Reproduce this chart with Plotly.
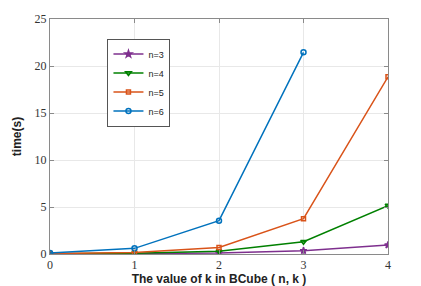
import plotly.graph_objects as go

k_values = [0, 1, 2, 3, 4]
n3 = [0.01, 0.03, 0.1, 0.35, 0.95]
n4 = [0.02, 0.08, 0.3, 1.3, 5.15]
n5 = [0.05, 0.15, 0.7, 3.75, 18.85]
n6 = [0.1, 0.6, 3.55, 21.45]
series = [
    ("n=3", k_values, n3, "#7E2F8E", "star", 5),
    ("n=4", k_values, n4, "#008000", "triangle-down-open", 5),
    ("n=5", k_values, n5, "#D95319", "square-open", 4),
    ("n=6", k_values[:4], n6, "#0072BD", "circle-open", 5),
]

fig = go.Figure()
for name, xs, ys, c, sym, sz in series:
    fig.add_trace(go.Scatter(
        x=xs, y=ys, name=name, mode="lines+markers",
        line=dict(color=c, width=1.5),
        marker=dict(symbol=sym, size=sz, color=c, line=dict(color=c, width=1.5)),
    ))

axis_common = dict(
    showline=True, linecolor="#8a8a8a", linewidth=1, mirror="ticks",
    ticks="inside", ticklen=4, tickcolor="#8a8a8a",
    showgrid=True, gridcolor="#e8e8e8", zeroline=False, automargin=False,
    tickfont=dict(family="Liberation Serif", size=12, color="#333333"),
)
fig.update_xaxes(range=[0, 4], dtick=1, **axis_common,
                 title=dict(text="<b>The value of k in BCube ( n, k )</b>",
                            font=dict(family="Liberation Sans", size=12, color="#222222"),
                            standoff=0))
fig.update_yaxes(range=[0, 25], dtick=5, **axis_common,
                 title=dict(text="<b>time(s)</b>",
                            font=dict(family="Liberation Sans", size=12, color="#222222"),
                            standoff=10))
fig.update_layout(
    width=421, height=286,
    margin=dict(l=50, r=33, t=19, b=32),
    paper_bgcolor="white", plot_bgcolor="white",
    showlegend=True,
    legend=dict(x=0.17, y=0.917, xanchor="left", yanchor="top",
                bordercolor="#555555", borderwidth=1, bgcolor="white",
                font=dict(family="Liberation Sans", size=9, color="#222222"),
                tracegroupgap=0, itemwidth=30),
)
fig.write_html("out.html", config={"displayModeBar": False},
               post_script="document.body.style.margin='0';")
